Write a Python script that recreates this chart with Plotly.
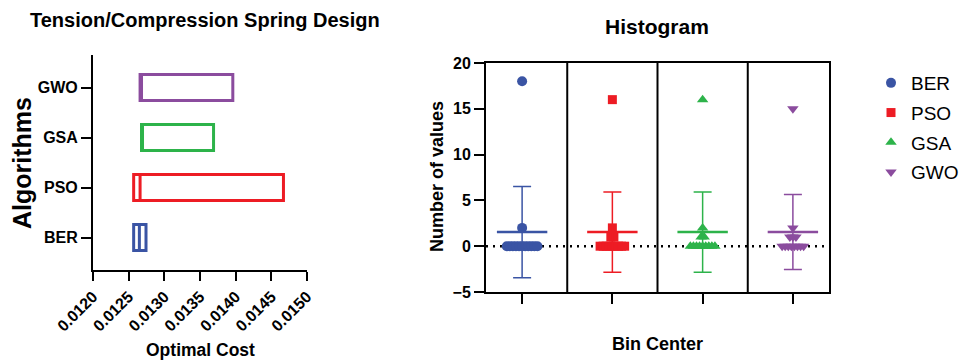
import numpy as np
import plotly.graph_objects as go

# ---------------- data ----------------
algorithms = ["BER", "PSO", "GSA", "GWO"]
colors = ["#3A54A4", "#ED1C24", "#2DB34A", "#8B4C9E"]
symbols = ["circle", "square", "triangle-up", "triangle-down"]

# Left: floating bars (min, line, max) of optimal cost
cost_min = [0.01257, 0.01257, 0.01268, 0.01266]
cost_mid = [0.01265, 0.01266, 0.01269, 0.01268]
cost_max = [0.012743, 0.01467, 0.01369, 0.01396]
cost_ticks = [0.0120, 0.0125, 0.0130, 0.0135, 0.0140, 0.0145, 0.0150]

# Right: histogram counts ("Number of values") per algorithm
counts_BER = [18, 2, 0, 0, 0, 0, 0, 0, 0, 0, 0, 0, 0]
counts_PSO = [16, 2, 1, 1, 0, 0, 0, 0, 0, 0, 0, 0, 0]
counts_GSA = [16, 2, 1, 1, 0, 0, 0, 0, 0, 0, 0, 0, 0]
counts_GWO = [15, 2, 1, 1, 1, 0, 0, 0, 0, 0, 0, 0, 0]
counts = [counts_BER, counts_PSO, counts_GSA, counts_GWO]
hist_ticks = [-5, 0, 5, 10, 15, 20]

FONT = "Liberation Sans, Arial, sans-serif"
W, H = 967, 360

fig = go.Figure()

# ---------------- left chart ----------------
for i, a in enumerate(algorithms):
    fig.add_trace(go.Box(
        y=[a], q1=[cost_min[i]], median=[cost_mid[i]], q3=[cost_max[i]],
        lowerfence=[cost_min[i]], upperfence=[cost_max[i]],
        orientation="h", xaxis="x", yaxis="y",
        line=dict(color=colors[i], width=3), fillcolor="white",
        whiskerwidth=0, width=0.52, showlegend=False, boxpoints=False,
    ))

# ---------------- right chart ----------------
def spread(vals, sp):
    vals = np.asarray(vals, dtype=float)
    off = np.zeros(len(vals))
    for v in np.unique(vals):
        idx = np.where(vals == v)[0]
        m = len(idx)
        off[idx] = (np.arange(m) - (m - 1) / 2) * sp
    return off

for i, a in enumerate(algorithms):
    vals = np.asarray(counts[i], dtype=float)
    xs = i + spread(vals, 0.034)
    fig.add_trace(go.Scatter(
        x=xs, y=vals, mode="markers", xaxis="x2", yaxis="y2", name=a,
        legendgroup=a,
        marker=dict(symbol=symbols[i], color=colors[i], size=10 if i != 1 else 9,
                    line=dict(width=0)),
    ))
    m = vals.mean()
    sd = vals.std(ddof=1)
    fig.add_trace(go.Scatter(
        x=[i], y=[m], mode="markers", xaxis="x2", yaxis="y2", showlegend=False,
        marker=dict(symbol="line-ew", size=36, color=colors[i],
                    line=dict(color=colors[i], width=2.5)),
        error_y=dict(type="data", array=[sd], visible=True, color=colors[i],
                     thickness=1.5, width=9),
    ))

# separators and zero line
for s in [0.5, 1.5, 2.5]:
    fig.add_shape(type="line", xref="x2", yref="y2 domain", x0=s, x1=s, y0=0, y1=1,
                  line=dict(color="black", width=2))
fig.add_shape(type="line", xref="x2", yref="y2", x0=-0.4, x1=3.4, y0=0, y1=0,
              line=dict(color="black", width=2.5, dash="2px,5px"), layer="below")

axis_common = dict(showgrid=False, zeroline=False, linecolor="black", linewidth=2,
                   ticks="outside", tickwidth=2, tickcolor="black", automargin=False)

def tf(size):
    return dict(family=FONT, size=size, color="black", weight="bold")

fig.update_layout(
    width=W, height=H, margin=dict(l=0, r=0, t=0, b=0),
    paper_bgcolor="white", plot_bgcolor="white",
    font=dict(family=FONT, color="black"),
    xaxis=dict(domain=[93 / W, 307 / W], anchor="y", range=[0.0120, 0.0150],
               tickvals=cost_ticks, tickformat=".4f", tickangle=-45, ticklen=9,
               tickfont=tf(16), **axis_common),
    yaxis=dict(domain=[1 - 270 / H, 1 - 55 / H], anchor="x", type="category",
               categoryorder="array", categoryarray=algorithms, range=[-0.65, 3.65],
               ticklen=10, tickfont=tf(16), **axis_common),
    xaxis2=dict(domain=[486 / W, 829 / W], anchor="y2", range=[-0.4, 3.4],
                tickvals=[0, 1, 2, 3], ticktext=["", "", "", ""], ticklen=10,
                mirror=True, tickfont=tf(16), **axis_common),
    yaxis2=dict(domain=[1 - 292 / H, 1 - 63 / H], anchor="x2", range=[-5, 20],
                tickvals=hist_ticks, ticklen=10, mirror=True,
                tickfont=tf(16), **axis_common),
    legend=dict(x=871 / W, y=1 - 64 / H, xanchor="left", yanchor="top",
                font=dict(family=FONT, size=19, color="black"),
                tracegroupgap=2, itemwidth=30, bgcolor="rgba(0,0,0,0)",
                borderwidth=0),
    showlegend=True,
)

ann = [
    dict(text="<b>Tension/Compression Spring Design</b>", x=205, y=20, size=20, angle=0),
    dict(text="<b>Histogram</b>", x=657, y=27, size=21, angle=0),
    dict(text="<b>Algorithms</b>", x=22, y=163, size=25, angle=-90),
    dict(text="<b>Optimal Cost</b>", x=200, y=350, size=17.5, angle=0),
    dict(text="<b>Bin Center</b>", x=657, y=344, size=18, angle=0),
    dict(text="<b>Number of values</b>", x=437, y=177, size=18, angle=-90),
]
for a in ann:
    fig.add_annotation(text=a["text"], x=a["x"] / W, y=1 - a["y"] / H, xref="paper", yref="paper",
                       xanchor="center", yanchor="middle", showarrow=False, textangle=a["angle"],
                       font=dict(family=FONT, size=a["size"], color="black"))

fig.write_html("out.html")
